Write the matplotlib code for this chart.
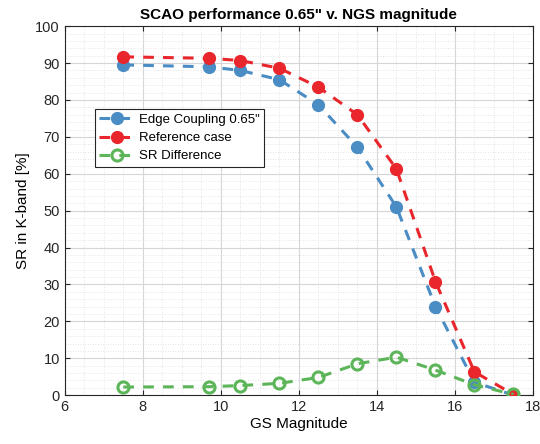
import matplotlib
matplotlib.use("Agg")
import matplotlib.pyplot as plt
from matplotlib.ticker import MultipleLocator

gs_mag = [7.5, 9.7, 10.5, 11.5, 12.5, 13.5, 14.5, 15.5, 16.5, 17.5]
sr_edge = [89.5, 89.0, 88.0, 85.5, 78.7, 67.2, 51.0, 24.0, 3.5, 0.0]
sr_ref = [91.7, 91.3, 90.7, 88.6, 83.5, 76.0, 61.3, 30.8, 6.3, 0.2]
sr_diff = [2.2, 2.3, 2.6, 3.2, 4.8, 8.5, 10.3, 6.8, 2.8, 0.2]

plt.rcParams.update({
    "font.family": "Liberation Sans",
    "font.size": 10,
})

fig = plt.figure(figsize=(5.4, 4.44), dpi=100)
ax = fig.add_axes([0.12, 0.11, 0.867, 0.831])

blue = "#4a8cc4"
red = "#e8262b"
green = "#5db55a"

ax.plot(gs_mag, sr_edge, "--o", color=blue, lw=2.2, ms=8.5,
        dashes=(3.5, 3), label="Edge Coupling 0.65\"", zorder=3)
ax.plot(gs_mag, sr_ref, "--o", color=red, lw=2.2, ms=8.5,
        dashes=(3.5, 3), label="Reference case", zorder=3)
ax.plot(gs_mag, sr_diff, "--o", color=green, lw=2.2, ms=8,
        dashes=(3.5, 3), mfc="none", mew=2.2, label="SR Difference", zorder=3)

ax.set_xlim(6, 18)
ax.set_ylim(0, 100)
ax.xaxis.set_major_locator(MultipleLocator(2))
ax.yaxis.set_major_locator(MultipleLocator(10))
ax.xaxis.set_minor_locator(MultipleLocator(0.5))
ax.yaxis.set_minor_locator(MultipleLocator(2))

ax.grid(which="major", color="#d6d6d6", lw=0.8)
ax.grid(which="minor", color="#dcdcdc", lw=0.6, linestyle=(0, (1, 2)))
ax.set_axisbelow(True)
ax.tick_params(which="both", direction="in", top=True, right=True,
               colors="#262626", labelsize=10.5)
ax.tick_params(which="minor", length=0)
for spine in ax.spines.values():
    spine.set_color("#262626")
    spine.set_linewidth(0.8)

ax.set_xlabel("GS Magnitude", fontsize=11, labelpad=2)
ax.set_ylabel("SR in K-band [%]", fontsize=11)
ax.set_title("SCAO performance 0.65\" v. NGS magnitude",
             fontsize=11, fontweight="bold", pad=5)

leg = ax.legend(loc="upper left", bbox_to_anchor=(0.064, 0.775),
                borderaxespad=0, fancybox=False, framealpha=1,
                edgecolor="#262626", handlelength=2.6, borderpad=0.35,
                labelspacing=0.45, handletextpad=0.4, fontsize=9.5)
leg.get_frame().set_linewidth(0.8)

fig.savefig("out.png", dpi=100, facecolor="white")
